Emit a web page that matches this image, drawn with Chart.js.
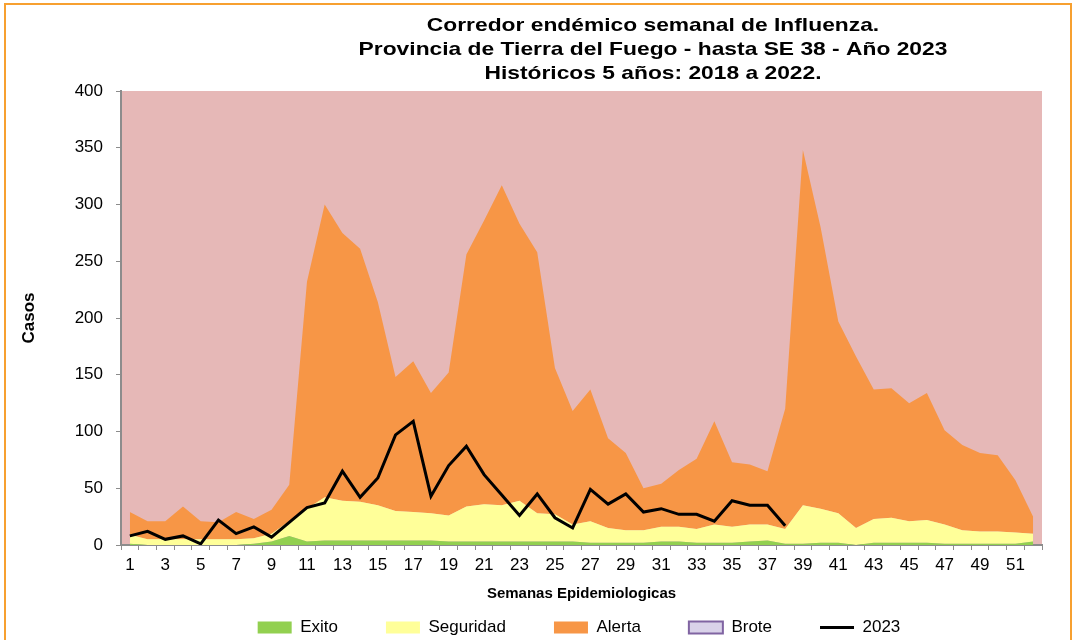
<!DOCTYPE html>
<html>
<head>
<meta charset="utf-8">
<script src="https://cdn.jsdelivr.net/npm/chart.js@4"></script>
<style>
  html, body { margin: 0; padding: 0; background: #fff; }
  #wrap { width: 1075px; height: 641px; position: relative; }
</style>
</head>
<body>
<div id="wrap"><canvas id="corredor" width="1075" height="641"></canvas></div>
<script>
// Semanas epidemiologicas 1..52
const semanas = ['1','2','3','4','5','6','7','8','9','10','11','12','13','14','15','16','17','18','19','20',
  '21','22','23','24','25','26','27','28','29','30','31','32','33','34','35','36','37','38','39','40',
  '41','42','43','44','45','46','47','48','49','50','51','52'];

// Limites del corredor (historicos 2018-2022)
const exito = [1,0,0,0,0,0,0,1,3,8,3,4,4,4,4,4,4,4,3,3,3,3,3,3,3,3,2,2,2,2,3,3,2,2,2,3,4,1,1,2,2,0,2,2,2,2,1,1,1,1,1,3];
const seguridad = [9,5,5,5,5,5,5,6,10,21,32,42,39,38,35,30,29,28,26,34,36,35,39,28,27,18,21,15,13,13,16,16,14,18,16,18,18,14,35,32,28,15,23,24,21,22,18,13,12,12,11,10];
const alerta = [29,21,21,34,21,20,29,23,31,53,232,300,275,261,214,148,162,134,152,256,286,317,283,258,156,118,137,94,81,50,54,66,76,109,73,71,65,120,348,280,197,166,137,138,125,134,101,88,81,79,57,25];

// Casos 2023 hasta SE 38
const casos2023 = [8,12,5,8,1,22,10,16,7,20,33,37,65,42,59,97,109,43,70,87,62,44,26,45,24,15,49,36,45,29,32,27,27,21,39,35,35,17];

const yTicks = { min: 0, max: 400, step: 50 };

const titulo = [
  'Corredor endémico semanal de Influenza.',
  'Provincia de Tierra del Fuego - hasta SE 38 - Año 2023',
  'Históricos 5 años: 2018 a 2022.'
];

const FONT = '"Liberation Sans", Arial, sans-serif';
Chart.defaults.font.family = FONT;
Chart.defaults.color = '#000';

// Fondo rosa (zona de brote), marco y titulo
const marcoPlugin = {
  id: 'marco',
  beforeDraw(chart) {
    const { ctx, chartArea } = chart;
    ctx.save();
    ctx.fillStyle = '#fff';
    ctx.fillRect(0, 0, chart.width, chart.height);
    ctx.fillStyle = '#E6B8B7';
    ctx.fillRect(chartArea.left, chartArea.top, chartArea.right - chartArea.left, chartArea.bottom - chartArea.top);
    ctx.restore();
  },
  afterDraw(chart) {
    const ctx = chart.ctx;
    ctx.save();
    ctx.fillStyle = '#000';
    ctx.font = 'bold 19px ' + FONT;
    ctx.textAlign = 'center';
    ctx.textBaseline = 'middle';
    titulo.forEach((line, i) => {
      ctx.save();
      ctx.translate(653, 26 + i * 24);
      ctx.scale(1.2, 1);
      ctx.fillText(line, 0, 0);
      ctx.restore();
    });
    ctx.strokeStyle = '#F7A030';
    ctx.lineWidth = 2;
    ctx.beginPath();
    ctx.moveTo(5, 640);
    ctx.lineTo(5, 4);
    ctx.lineTo(1071, 4);
    ctx.lineTo(1071, 640);
    ctx.stroke();
    ctx.restore();
  }
};

// Mover la leyenda debajo del eje X
const leyendaPlugin = {
  id: 'leyendaAbajo',
  afterLayout(chart) {
    const lg = chart.legend;
    const h = lg.bottom - lg.top;
    lg.top = 571;
    lg.bottom = lg.top + h;
    lg.left += 58;
    lg.right += 58;
  }
};

const ctx = document.getElementById('corredor');
new Chart(ctx, {
  type: 'line',
  data: {
    labels: semanas,
    datasets: [
      {
        label: 'Exito',
        data: exito,
        fill: 'origin',
        backgroundColor: '#92D050',
        borderWidth: 0,
        pointRadius: 0,
        legendFill: '#92D050', legendStroke: '#92D050', legendLine: 0
      },
      {
        label: 'Seguridad',
        data: seguridad,
        fill: '-1',
        backgroundColor: '#FFFF99',
        borderWidth: 0,
        pointRadius: 0,
        legendFill: '#FFFF99', legendStroke: '#FFFF99', legendLine: 0
      },
      {
        label: 'Alerta',
        data: alerta,
        fill: '-1',
        backgroundColor: '#F79646',
        borderWidth: 0,
        pointRadius: 0,
        legendFill: '#F79646', legendStroke: '#F79646', legendLine: 0
      },
      {
        label: 'Brote',
        data: [],
        fill: false,
        borderWidth: 0,
        pointRadius: 0,
        legendFill: '#D9D2E9', legendStroke: '#8064A2', legendLine: 2
      },
      {
        label: '2023',
        data: casos2023,
        fill: false,
        borderColor: '#000',
        borderWidth: 3,
        pointRadius: 0,
        tension: 0,
        legendFill: '#000', legendStroke: '#000', legendLine: 3
      }
    ]
  },
  options: {
    responsive: false,
    animation: false,
    layout: { padding: { top: 16, right: 33, bottom: 26, left: 0 } },
    plugins: {
      filler: { drawTime: 'beforeDatasetsDraw' },
      tooltip: { enabled: false },
      legend: {
        position: 'top',
        labels: {
          usePointStyle: true,
          pointStyleWidth: 34,
          boxHeight: 12,
          padding: 48,
          color: '#000',
          font: { size: 17 },
          generateLabels(chart) {
            return chart.data.datasets.map((ds, i) => ({
              text: ds.label,
              datasetIndex: i,
              fillStyle: ds.legendFill,
              strokeStyle: ds.legendStroke,
              lineWidth: ds.legendLine,
              pointStyle: ds.label === '2023' ? 'line' : 'rect',
              hidden: false,
              fontColor: '#000'
            }));
          }
        }
      }
    },
    scales: {
      x: {
        offset: true,
        afterFit(scale) { scale.height = 70; },
        grid: { display: true, drawOnChartArea: false, offset: true, tickLength: 5, color: '#8c8c8c' },
        border: { color: '#8c8c8c', width: 2 },
        ticks: {
          autoSkip: false,
          maxRotation: 0,
          padding: 5,
          font: { size: 17 },
          callback: (val, i) => (i % 2 === 0 ? semanas[i] : '')
        },
        title: {
          display: true,
          text: 'Semanas Epidemiologicas',
          font: { size: 15, weight: 'bold' },
          padding: { top: 0, bottom: 12 }
        }
      },
      y: {
        min: yTicks.min,
        max: yTicks.max,
        afterFit(scale) { scale.width = 121; },
        grid: { display: true, drawOnChartArea: false, tickLength: 5, color: '#8c8c8c' },
        border: { color: '#8c8c8c', width: 2 },
        ticks: { stepSize: yTicks.step, padding: 13, font: { size: 17 } },
        title: {
          display: true,
          text: 'Casos',
          font: { size: 17, weight: 'bold' },
          padding: { top: 19, bottom: 0 }
        }
      }
    }
  },
  plugins: [marcoPlugin, leyendaPlugin]
});
</script>
</body>
</html>
